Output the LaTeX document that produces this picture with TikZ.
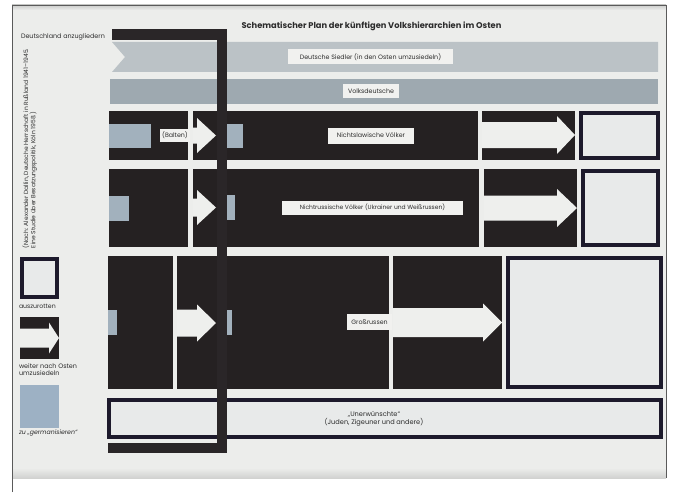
\documentclass[tikz,border=0pt]{standalone}
\usepackage{fontspec}
\setmainfont{Poppins}
\definecolor{blkc}{HTML}{252122}
\definecolor{panelc}{HTML}{ECEDEB}
\definecolor{bandA}{HTML}{BBC2C6}
\definecolor{bandB}{HTML}{9EA9B0}
\definecolor{germc}{HTML}{A2B1BD}
\definecolor{germL}{HTML}{9DB1C4}
\definecolor{outc}{HTML}{1D1A2C}
\definecolor{outf}{HTML}{E8EAEA}
\definecolor{lblc}{HTML}{F1F1EF}
\definecolor{txtc}{HTML}{2C2C2C}
\definecolor{arrc}{HTML}{EEEFED}
\definecolor{framec}{HTML}{5A5A5A}
\definecolor{barc}{HTML}{2A2628}
\newcommand\rectnode[6]{\node[#2, minimum width={#5-#3}, minimum height={#6-#4}] (#1) at (#3,#4) {};}
\newcommand\orect[5]{\node[obox, minimum width={#4-#2-3.8}, minimum height={#5-#3-3.8}] (#1) at (#2+1.9,#3+1.9) {};}
\newcommand\warrow[6]{\fill[arrst] (#1,#4-#5) -- (#2,#4-#5) -- (#2,#4-#6) -- (#3,#4) -- (#2,#4+#6) -- (#2,#4+#5) -- (#1,#4+#5) -- cycle;}
\begin{document}
\begin{tikzpicture}[x=1pt,y=-1pt,
  blk/.style={fill=blkc, inner sep=0, outer sep=0, anchor=north west},
  gbox/.style={fill=germc, inner sep=0, outer sep=0, anchor=north west},
  gboxL/.style={fill=germL, inner sep=0, outer sep=0, anchor=north west},
  bandst/.style={fill=bandB, inner sep=0, outer sep=0, anchor=north west},
  obox/.style={draw=outc, line width=3.8pt, fill=outf, inner sep=0, outer sep=0, anchor=north west},
  arrst/.style={fill=arrc},
  lbl/.style={fill=lblc, text=txtc, font=\fontsize{6.3}{7.5}\selectfont, inner sep=0, outer sep=0},
  txt/.style={text=txtc, font=\fontsize{6.2}{7}\selectfont, inner sep=0, outer sep=0},
  barst/.style={draw=barc, line width=10.5pt, line join=miter, line cap=butt}
]
\useasboundingbox (0,0) rectangle (676,492);
\fill[white] (0,0) rectangle (676,492);
% panel
\fill[panelc] (12,5) rectangle (666,478);
\shade[top color=panelc!70!gray, bottom color=panelc] (12,5) rectangle (666,10);
\shade[top color=panelc, bottom color=panelc!75!gray] (12,468) rectangle (666,478);
\draw[framec, line width=0.9pt] (12,492) -- (12,5) -- (666,5) -- (666,478);

% title
\node[text=txtc, font=\bfseries\fontsize{8.3}{10}\selectfont, inner sep=0] (title) at (371.5,26) {Schematischer Plan der künftigen Volkshierarchien im Osten};
\node[txt, anchor=west, font=\fontsize{6.4}{7}\selectfont] (dtl) at (21,37) {Deutschland anzugliedern};

% citation
\node[txt, rotate=90, anchor=north west, align=left, font=\fontsize{6}{7.2}\selectfont] (cite) at (22.5,248)
  {(Nach: Alexander Dallin, Deutsche Herrschaft in Rußland 1941–1945.\\Eine Studie über Besatzungspolitik, Köln 1958.)};

% bands
\fill[bandA] (112,42) -- (658,42) -- (658,72) -- (112,72) -- (125,57) -- cycle;
\rectnode{band2}{bandst}{110}{79}{658}{104}
\node[lbl, minimum width=165pt, minimum height=15pt] (siedler) at (370.5,57) {Deutsche Siedler (in den Osten umzusiedeln)};
\node[lbl, minimum width=56pt, minimum height=14pt] (volksd) at (371,91.5) {Volksdeutsche};

% row 3
\rectnode{a3}{blk}{109}{111}{188}{160}
\rectnode{b3}{blk}{193}{111}{478}{160}
\rectnode{d3}{blk}{482}{111}{575}{160}
\orect{e3}{579}{111}{660}{160}
\rectnode{g3a}{gbox}{109}{124}{151}{148}
\rectnode{g3b}{gbox}{222}{124}{243}{148}
\warrow{193}{197}{216}{135.5}{8}{17.5}
\warrow{482}{557}{575}{135}{13}{19}
\node[lbl, minimum width=30pt, minimum height=13pt] (balten) at (175,135.5) {(Balten)};
\node[lbl, minimum width=86pt, minimum height=16pt] (nsl) at (371,135.5) {Nichtslawische Völker};

% row 4
\rectnode{a4}{blk}{109}{169}{188}{247}
\rectnode{b4}{blk}{193}{169}{479}{247}
\rectnode{d4}{blk}{484}{169}{577}{247}
\orect{e4}{581}{169}{660}{247}
\rectnode{g4a}{gbox}{109}{196}{129}{221}
\rectnode{g4b}{gbox}{222}{195}{235}{220}
\warrow{193}{197}{216}{207.5}{9}{17.5}
\warrow{484}{557}{577}{208}{12.5}{19}
\node[lbl, minimum width=181pt, minimum height=14pt, font=\fontsize{6}{7}\selectfont] (nru) at (372.5,207.5) {Nichtrussische Völker (Ukrainer und Weißrussen)};

% row 5
\rectnode{a5}{blk}{108}{256}{173}{389}
\rectnode{b5}{blk}{177}{256}{389}{389}
\rectnode{c5}{blk}{393}{256}{502}{389}
\orect{d5}{506}{256}{663}{389}
\rectnode{g5a}{gbox}{108}{310}{117}{335}
\rectnode{g5b}{gbox}{222}{310}{232}{335}
\warrow{177}{197}{216}{323}{13.5}{18.5}
\warrow{393}{483}{502}{322.5}{14.5}{19}
\node[lbl, minimum width=45pt, minimum height=16pt] (gross) at (369.5,322) {Großrussen};

% row 6
\orect{u6}{107}{398}{663}{439}
\node[txt, align=center, font=\fontsize{6.6}{8}\selectfont] (unerw) at (374,419) {„Unerwünschte“\\(Juden, Zigeuner und andere)};

% legend
\orect{lg1}{20}{257}{59}{299}
\node[txt, anchor=west] (lt1) at (19,306) {auszurotten};
\rectnode{lg2}{blk}{20}{317}{59}{359}
\warrow{20}{49}{59}{338}{9.5}{15.5}
\node[txt, anchor=west, align=left, font=\fontsize{6.4}{7}\selectfont] (lt2) at (19,369.5) {weiter nach Osten\\umzusiedeln};
\rectnode{lg3}{gboxL}{20}{385}{59}{428}
\node[txt, anchor=west, font=\fontsize{6.2}{7}\selectfont\itshape] (lt3) at (19,433) {zu „germanisieren“};

% J bar
\coordinate (jl) at (112,34.5);
\coordinate (jc1) at (222,34.5);
\coordinate (jc2) at (222,448);
\coordinate (jr) at (108,448);
\draw[barst] (jl) -- (jc1) -- (jc2) -- (jr);
\end{tikzpicture}
\end{document}
